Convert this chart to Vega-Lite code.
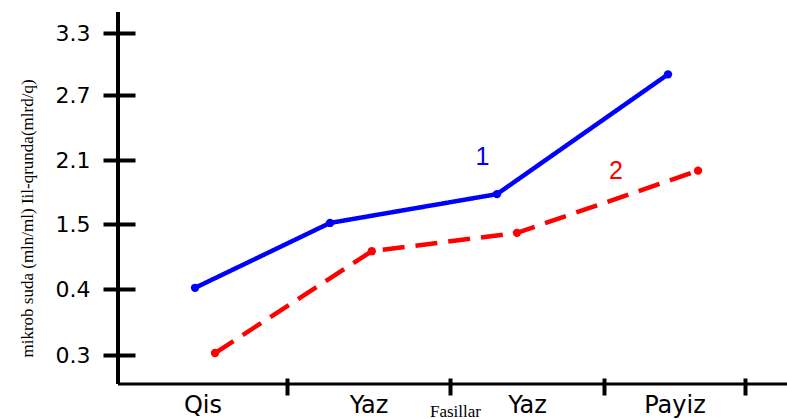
{
  "$schema": "https://vega.github.io/schema/vega-lite/v6.json",
  "autosize": "none",
  "width": 669,
  "height": 372,
  "padding": {"left": 118, "top": 12, "right": 0, "bottom": 35},
  "config": {"view": {"stroke": null}},
  "datasets": {
    "series": [
      {"series": "1", "season_pos": 0.456, "value": 0.42},
      {"series": "1", "season_pos": 1.264, "value": 1.51},
      {"series": "1", "season_pos": 2.305, "value": 1.78},
      {"series": "1", "season_pos": 3.454, "value": 2.9},
      {"series": "2", "season_pos": 0.574, "value": 0.303},
      {"series": "2", "season_pos": 1.52, "value": 1.04},
      {"series": "2", "season_pos": 2.435, "value": 1.35},
      {"series": "2", "season_pos": 3.667, "value": 2.0}
    ],
    "labels": [
      {"series": "1", "season_pos": 2.21, "value": 2.13},
      {"series": "2", "season_pos": 3.085, "value": 2.0}
    ]
  },
  "layer": [
    {
      "data": {"name": "series"},
      "mark": {"type": "line", "strokeWidth": 4.5, "strokeCap": "butt"},
      "encoding": {
        "x": {
          "field": "season_pos",
          "type": "quantitative",
          "title": "Fasillar",
          "scale": {"domain": [0, 1, 2, 3, 4, 4.3], "range": [0, 169, 332, 486, 627, 669], "nice": false, "zero": false},
          "axis": {
            "values": [0.5, 1, 1.5, 2, 2.5, 3, 3.5, 4],
            "offset": -6,
            "domain": false,
            "grid": false,
            "tickSize": 17,
            "tickWidth": 4,
            "tickColor": "black",
            "tickOpacity": {"condition": {"test": "datum.value % 1 != 0", "value": 0}, "value": 1},
            "labelExpr": "datum.value == 0.5 ? 'Qis' : datum.value == 1.5 ? 'Yaz' : datum.value == 2.5 ? 'Yaz' : datum.value == 3.5 ? 'Payiz' : ''",
            "labelOverlap": false,
            "labelFlush": false,
            "labelBound": false,
            "labelFont": "DejaVu Sans",
            "labelFontSize": 24,
            "labelColor": "black",
            "labelPadding": -2,
            "titleFont": "Liberation Serif",
            "titleFontSize": 17,
            "titleFontWeight": "normal",
            "titleColor": "black",
            "titleX": 337,
            "titleY": 25,
            "titleBaseline": "top"
          }
        },
        "y": {
          "field": "value",
          "type": "quantitative",
          "title": "mikrob suda (mln/ml) Iil-qrunda(mlrd/q)",
          "scale": {"domain": [0.256, 0.3, 0.4, 1.5, 2.1, 2.7, 3.3, 3.503], "range": [372, 343, 277, 212, 148, 83, 21, 0], "nice": false, "zero": false},
          "axis": {
            "values": [0.3, 0.35, 0.4, 0.95, 1.5, 1.8, 2.1, 2.4, 2.7, 3.0, 3.3],
            "offset": -17,
            "domain": false,
            "grid": false,
            "tickSize": 32,
            "tickWidth": 4,
            "tickColor": "black",
            "labelExpr": "(datum.value == 0.3 || datum.value == 0.4 || datum.value == 1.5 || datum.value == 2.1 || datum.value == 2.7 || datum.value == 3.3) ? format(datum.value, '.1f') : ''",
            "labelOverlap": false,
            "labelFont": "DejaVu Sans",
            "labelFontSize": 22,
            "labelColor": "black",
            "labelPadding": 13,
            "titleFont": "Liberation Serif",
            "titleFontSize": 17,
            "titleFontWeight": "normal",
            "titleColor": "black",
            "titleX": -99,
            "titleY": 206
          }
        },
        "color": {"field": "series", "type": "nominal", "scale": {"domain": ["1", "2"], "range": ["#0000ff", "#ff0000"]}, "legend": null},
        "strokeDash": {"field": "series", "type": "nominal", "scale": {"domain": ["1", "2"], "range": [[1, 0], [22, 11]]}, "legend": null}
      }
    },
    {
      "data": {"name": "series"},
      "mark": {"type": "point", "filled": true, "opacity": 1, "size": 70, "shape": "circle"},
      "encoding": {
        "x": {"field": "season_pos", "type": "quantitative"},
        "y": {"field": "value", "type": "quantitative"},
        "color": {"field": "series", "type": "nominal", "legend": null}
      }
    },
    {
      "data": {"name": "labels"},
      "mark": {"type": "text", "font": "Liberation Sans", "fontSize": 25, "align": "center", "baseline": "middle"},
      "encoding": {
        "x": {"field": "season_pos", "type": "quantitative"},
        "y": {"field": "value", "type": "quantitative"},
        "text": {"field": "series"},
        "color": {"field": "series", "type": "nominal", "legend": null}
      }
    },
    {
      "data": {"values": [{}]},
      "mark": {"type": "rule", "color": "black", "strokeWidth": 4},
      "encoding": {"x": {"datum": 0, "type": "quantitative"}}
    },
    {
      "data": {"values": [{}]},
      "mark": {"type": "rule", "color": "black", "strokeWidth": 3},
      "encoding": {"y": {"datum": 0.256, "type": "quantitative"}}
    }
  ]
}
